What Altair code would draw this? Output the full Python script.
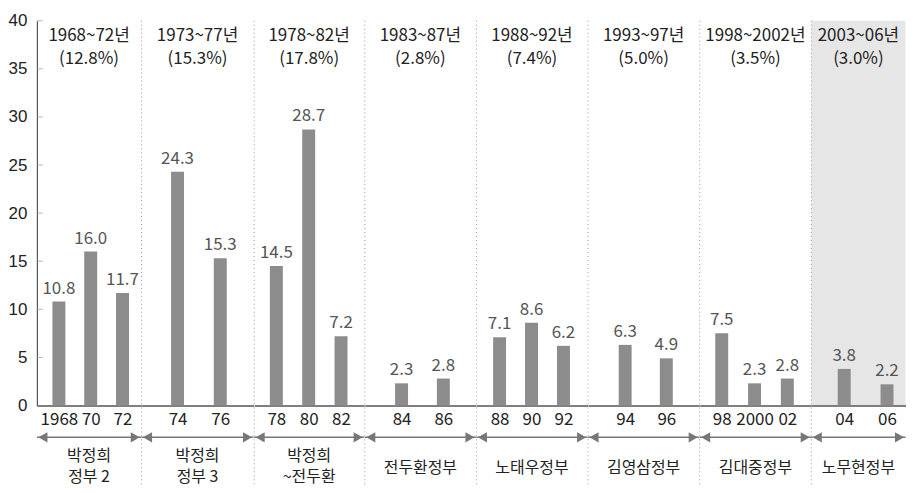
import altair as alt
import pandas as pd

# ---- data ----
periods = ["1968~72년", "1973~77년", "1978~82년", "1983~87년",
           "1988~92년", "1993~97년", "1998~2002년", "2003~06년"]
period_rates = ["(12.8%)", "(15.3%)", "(17.8%)", "(2.8%)",
                "(7.4%)", "(5.0%)", "(3.5%)", "(3.0%)"]
governments = ["박정희\n정부 2", "박정희\n정부 3", "박정희\n~전두환", "전두환정부",
               "노태우정부", "김영삼정부", "김대중정부", "노무현정부"]
bars_per_period = [3, 2, 3, 2, 3, 2, 3, 2]
year_labels = ["1968", "70", "72", "74", "76", "78", "80", "82", "84", "86",
               "88", "90", "92", "94", "96", "98", "2000", "02", "04", "06"]
growth = [10.8, 16.0, 11.7, 24.3, 15.3, 14.5, 28.7, 7.2, 2.3, 2.8,
          7.1, 8.6, 6.2, 6.3, 4.9, 7.5, 2.3, 2.8, 3.8, 2.2]
y_ticks = [0, 5, 10, 15, 20, 25, 30, 35, 40]
highlight_period = 7

# ---- layout / style ----
FONT = "Noto Sans CJK KR"
NUM_FONT = "Liberation Sans"
H = 386
widths = [104.7, 112.3, 110.3, 111.5, 111.5, 111.5, 111.9, 94.5]
paddings = [0.64, 0.81, 0.70, 0.83, 0.74, 0.85, 0.70, 0.60]
aligns = [0.54, 0.52, 0.49, 0.53, 0.49, 0.53, 0.48, 0.64]
BAR = "#8c8c8c"
ARROW = "#777777"

yscale = alt.Scale(domain=[0, 40], nice=False, zero=True)

panels = []
start = 0
for i, n in enumerate(bars_per_period):
    w = widths[i]
    df = pd.DataFrame({"year": year_labels[start:start + n],
                       "value": growth[start:start + n]})
    start += n

    xaxis = alt.Axis(title=None, labelAngle=0, ticks=False, domainColor="#555555",
                     domainWidth=1.5, labelFontSize=17, labelColor="#222222",
                     labelPadding=6, labelFont=FONT)
    x = alt.X("year:N", sort=None,
              scale=alt.Scale(type="point", padding=paddings[i], align=aligns[i]),
              axis=xaxis)
    if i == 0:
        yaxis = alt.Axis(values=y_ticks, title=None, ticks=False, grid=False,
                         labelFontSize=17, labelColor="#222222", labelPadding=10,
                         domainColor="#555555", domainWidth=1.2, labelFont=NUM_FONT)
    else:
        yaxis = None
    y = alt.Y("value:Q", scale=yscale, axis=yaxis)

    base = alt.Chart(df)
    layers = []
    if i > 0:
        layers.append(
            alt.Chart(pd.DataFrame({"a": [0]})).mark_rule(
                color="#999999", strokeDash=[1, 3], strokeWidth=1
            ).encode(x=alt.value(0), y=alt.value(0), y2=alt.value(H + 79))
        )
    layers.append(base.mark_bar(width=13, color=BAR).encode(x=x, y=y))
    layers.append(
        base.mark_text(dy=-8, baseline="alphabetic", fontSize=17, color="#555555",
                       font=FONT).encode(
            x=alt.X("year:N", sort=None),
            y=alt.Y("value:Q", scale=yscale, axis=yaxis),
            text=alt.Text("value:Q", format=".1f"),
        )
    )
    if i == 0:
        layers.append(
            alt.Chart(pd.DataFrame({"value": y_ticks[1:]})).mark_tick(
                orient="horizontal", size=6, thickness=1, color="#999999"
            ).encode(y=alt.Y("value:Q", scale=yscale, axis=yaxis), x=alt.value(3))
        )
    # header
    layers.append(
        alt.Chart(pd.DataFrame({"t": [periods[i]]})).mark_text(
            fontSize=17, color="#222222", baseline="middle", font=FONT
        ).encode(text="t:N", x=alt.value(w / 2), y=alt.value(15))
    )
    layers.append(
        alt.Chart(pd.DataFrame({"t": [period_rates[i]]})).mark_text(
            fontSize=17, color="#222222", baseline="middle", font=FONT
        ).encode(text="t:N", x=alt.value(w / 2), y=alt.value(38.5))
    )
    # arrow
    arrow_df = pd.DataFrame({"a": [0]})
    layers.append(
        alt.Chart(arrow_df).mark_rule(color=ARROW, strokeWidth=1.5).encode(
            x=alt.value(0), x2=alt.value(w), y=alt.value(H + 32))
    )
    layers.append(
        alt.Chart(arrow_df).mark_point(shape="triangle-left", filled=True, size=110,
                                       color=ARROW, opacity=1).encode(
            x=alt.value(6), y=alt.value(H + 32))
    )
    layers.append(
        alt.Chart(arrow_df).mark_point(shape="triangle-right", filled=True, size=110,
                                       color=ARROW, opacity=1).encode(
            x=alt.value(w - 6), y=alt.value(H + 32))
    )
    # government name
    n_lines = governments[i].count("\n") + 1
    layers.append(
        alt.Chart(pd.DataFrame({"t": [governments[i]]})).mark_text(
            fontSize=16, color="#222222", baseline="middle", lineBreak="\n",
            lineHeight=21, font=FONT
        ).encode(text="t:N", x=alt.value(w / 2),
                 y=alt.value(H + 63 - 12 * (n_lines - 1)))
    )

    panel = alt.layer(*layers).properties(width=w, height=H)
    if i == highlight_period:
        panel = panel.properties(view=alt.ViewBackground(fill="#e6e6e6", strokeWidth=0))
    panels.append(panel)

chart = alt.hconcat(*panels, spacing=0, bounds="flush").properties(
    padding={"left": 0, "top": 3, "right": 0, "bottom": 0}
).configure_view(strokeWidth=0).configure_text(font=FONT)

chart.save("out.html", embed_options={"renderer": "svg", "actions": False})
